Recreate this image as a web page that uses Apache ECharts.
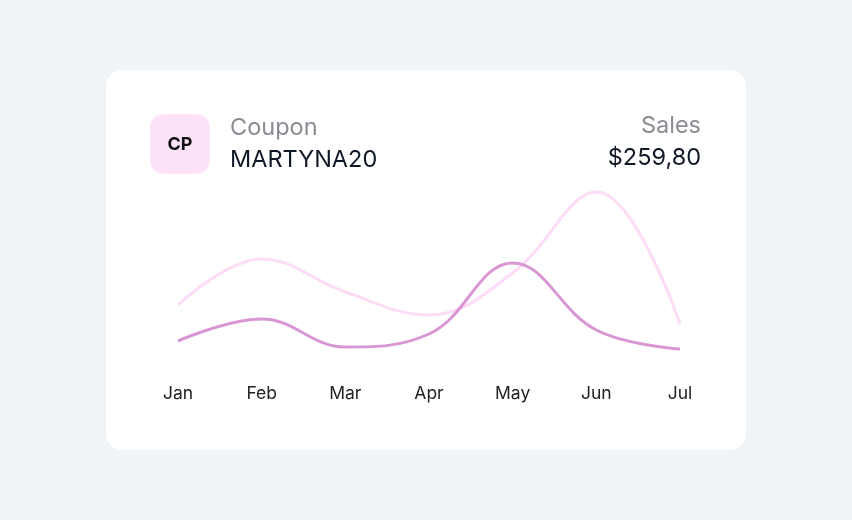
<!DOCTYPE html>
<html><head><meta charset="utf-8">
<script src="https://cdn.jsdelivr.net/npm/echarts@6/dist/echarts.min.js"></script>
<style>html,body{margin:0;padding:0;background:#f0f3f8;}#c{width:852px;height:520px;}</style>
</head><body><div id="c"></div>
<script>
const months = ['Jan','Feb','Mar','Apr','May','Jun','Jul'];
const couponSales = [19.5, 30.5, 16.5, 23, 58.5, 25, 15.5];
const totalSales = [37.5, 60.5, 44, 32.5, 53.5, 94, 28];
const couponCode = 'MARTYNA20';
const salesTotal = '$259,80';

const font = 'Inter, "Noto Sans", sans-serif';
const chart = echarts.init(document.getElementById('c'), null, {renderer:'canvas'});
chart.setOption({
  backgroundColor: '#f0f3f8',
  animation: false,
  grid: {left: 178, right: 172, top: 180, bottom: 140},
  xAxis: {
    type: 'category', data: months, boundaryGap: false,
    axisLine: {show: false}, axisTick: {show: false}, splitLine: {show: false},
    axisLabel: {color: '#222222', fontSize: 17.5, fontFamily: font, margin: 5}
  },
  yAxis: {type: 'value', min: 0, max: 100, show: false},
  graphic: [
    {type: 'rect', z: -10, shape: {x: 106, y: 70, width: 640, height: 380, r: 16}, style: {fill: '#ffffff'}},
    {type: 'rect', z: -5, shape: {x: 150, y: 114, width: 60, height: 60, r: 14}, style: {fill: '#fde3f8'}},
    {type: 'text', style: {x: 180, y: 145, text: 'CP', fill: '#111111', font: 'bold 18px ' + font, textAlign: 'center', textVerticalAlign: 'middle'}},
    {type: 'text', style: {x: 230, y: 128, text: 'Coupon', fill: '#8b8b93', font: '23.5px ' + font, textAlign: 'left', textVerticalAlign: 'middle'}},
    {type: 'text', style: {x: 230, y: 160, text: couponCode, fill: '#111827', font: '23.5px ' + font, textAlign: 'left', textVerticalAlign: 'middle'}},
    {type: 'text', style: {x: 701, y: 126, text: 'Sales', fill: '#8b8b93', font: '23.5px ' + font, textAlign: 'right', textVerticalAlign: 'middle'}},
    {type: 'text', style: {x: 701, y: 158, text: salesTotal, fill: '#111827', font: '23.5px ' + font, textAlign: 'right', textVerticalAlign: 'middle'}}
  ],
  series: [
    {type: 'line', data: totalSales, smooth: 0.4, symbol: 'none',
     lineStyle: {color: '#fcdcf6', width: 3}},
    {type: 'line', data: couponSales, smooth: 0.4, symbol: 'none',
     lineStyle: {color: '#d996d5', width: 3}}
  ]
});
</script></body></html>
